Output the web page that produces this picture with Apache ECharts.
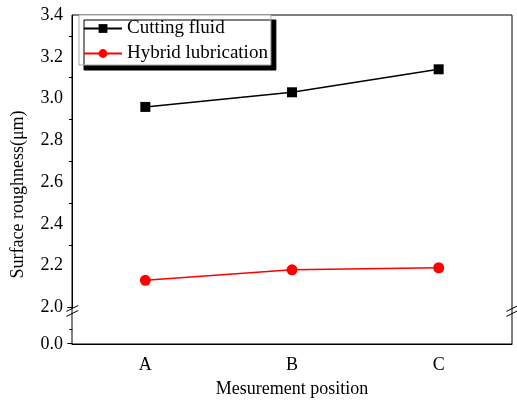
<!DOCTYPE html>
<html>
<head>
<meta charset="utf-8" />
<script src="https://cdn.jsdelivr.net/npm/echarts@6/dist/echarts.min.js"></script>
<title>Surface roughness</title>
</head>
<body style="margin:0">
<div id="main" style="width: 517px;height:400px;"></div>
<script type="text/javascript">
// data
var positions = ['A', 'B', 'C'];
var cuttingFluid = [2.96, 3.03, 3.14];
var hybridLub = [2.13, 2.18, 2.19];

var font = '"Liberation Serif", "Times New Roman", serif';
var dom = document.getElementById('main');
var myChart = echarts.init(dom);

var option = {
  animation: false,
  grid: {
    left: 72, right: 5, top: 15, bottom: 56,
    outerBoundsMode: 'none',
    show: true, borderColor: '#000', borderWidth: 1
  },
  legend: {
    orient: 'vertical',
    left: 79, top: 15,
    padding: [4, 3, 2, 4],
    itemGap: 6,
    itemWidth: 38,
    itemHeight: 11,
    backgroundColor: '#fff',
    borderColor: '#aaa',
    borderWidth: 1,
    shadowColor: '#000',
    shadowOffsetX: 5,
    shadowOffsetY: 5,
    shadowBlur: 0,
    textStyle: { fontFamily: font, fontSize: 19, color: '#000' },
    data: ['Cutting fluid', 'Hybrid lubrication']
  },
  xAxis: {
    type: 'category',
    data: positions,
    name: 'Mesurement position',
    nameLocation: 'middle',
    nameGap: 36,
    nameTextStyle: { fontFamily: font, fontSize: 18, color: '#000' },
    axisLine: { lineStyle: { color: '#000', width: 1 } },
    axisTick: { alignWithLabel: true, length: 7, lineStyle: { color: '#000' } },
    axisLabel: { fontFamily: font, fontSize: 18, color: '#000', margin: 12 }
  },
  yAxis: {
    type: 'value',
    min: 0,
    max: 3.4,
    interval: 0.2,
    breaks: [{ start: 0, end: 2.0, gap: 0.175 }],
    breakArea: { show: false },
    name: 'Surface roughness(\u03bcm)',
    nameLocation: 'middle',
    nameGap: 45,
    nameTextStyle: { fontFamily: font, fontSize: 18, color: '#000', padding: [0, 30, 0, 0] },
    axisLine: { show: true, lineStyle: { color: '#000', width: 1 } },
    axisTick: { length: 5, lineStyle: { color: '#000' } },
    minorTick: { show: true, splitNumber: 2, length: 3, lineStyle: { color: '#000' } },
    splitLine: { show: false },
    axisLabel: {
      fontFamily: font, fontSize: 18, color: '#000', margin: 9,
      formatter: function (v) { return v.toFixed(1); }
    }
  },
  series: [
    {
      name: 'Cutting fluid',
      type: 'line',
      data: cuttingFluid,
      symbol: 'rect',
      symbolSize: 10,
      itemStyle: { color: '#000' },
      lineStyle: { color: '#000', width: 1.5 }
    },
    {
      name: 'Hybrid lubrication',
      type: 'line',
      data: hybridLub,
      symbol: 'circle',
      symbolSize: 11,
      itemStyle: { color: '#ff0000' },
      lineStyle: { color: '#ff0000', width: 1.5 }
    }
  ]
};
myChart.setOption(option);

// "//" break marks on both vertical axes, just below 2.0
var y2 = myChart.convertToPixel({ yAxisIndex: 0 }, 2.0);
var y0 = myChart.convertToPixel({ yAxisIndex: 0 }, 0);
var yb = y2 + 3;
var xl = myChart.convertToPixel({ xAxisIndex: 0 }, 'A') - 73;
var xr = xl + 440;
function seg(x1, y1, x2, y2) {
  return { type: 'line', shape: { x1: x1, y1: y1, x2: x2, y2: y2 }, style: { stroke: '#000', lineWidth: 1 } };
}
function breakMark(x, y) {
  return [seg(x - 6, y + 1, x + 6, y - 5), seg(x - 6, y + 6, x + 6, y)];
}
// ticks at the break ends and a minor tick inside the broken span
var gt = [
  seg(xl - 5, Math.round(y2) + 0.5, xl, Math.round(y2) + 0.5),
  seg(xl - 5, Math.round(y0) - 0.5, xl, Math.round(y0) - 0.5),
  seg(xl - 3, Math.round((y0 + y2) / 2 + 3) + 0.5, xl, Math.round((y0 + y2) / 2 + 3) + 0.5)
];
myChart.setOption({ graphic: breakMark(xl, yb).concat(breakMark(xr, yb)).concat(gt) });
</script>
</body>
</html>
